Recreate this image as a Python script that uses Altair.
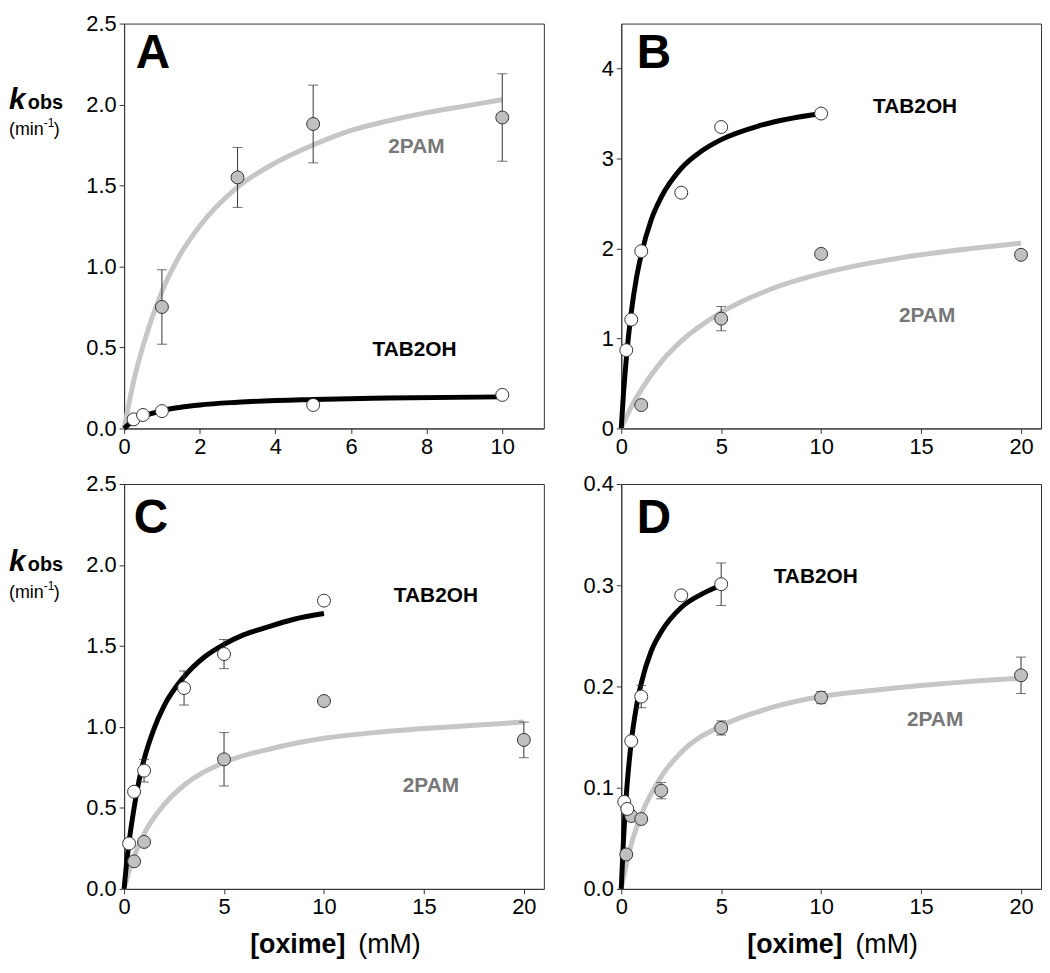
import altair as alt
import pandas as pd

# ---------------- data ----------------
# Panel A
A_X_2PAM = [1, 3, 5, 10]
A_Y_2PAM = [0.75, 1.55, 1.88, 1.92]
A_E_2PAM = [0.23, 0.185, 0.24, 0.27]
A_X_TAB = [0.25, 0.5, 1, 5, 10]
A_Y_TAB = [0.056, 0.083, 0.107, 0.145, 0.207]
A_E_TAB = [None, None, None, None, None]
A_FITX_2PAM = [0, 0.1, 0.25, 0.5, 1, 1.5, 2, 3, 4, 5, 6, 7, 8, 9, 10]
A_FITY_2PAM = [0, 0.12, 0.29, 0.51, 0.845, 1.08, 1.25, 1.49, 1.64, 1.75, 1.84, 1.90, 1.95, 1.99, 2.03]
A_FITX_TAB = [0, 0.1, 0.25, 0.5, 1, 2, 3, 5, 7, 10]
A_FITY_TAB = [0, 0.021, 0.045, 0.074, 0.11, 0.145, 0.162, 0.179, 0.188, 0.195]

# Panel B
B_X_2PAM = [1, 5, 10, 20]
B_Y_2PAM = [0.26, 1.22, 1.94, 1.93]
B_E_2PAM = [None, 0.135, None, None]
B_X_TAB = [0.25, 0.5, 1, 3, 5, 10]
B_Y_TAB = [0.87, 1.21, 1.97, 2.62, 3.35, 3.50]
B_E_TAB = [None, None, None, None, None, None]
B_FITX_2PAM = [0, 0.5, 1, 2, 3, 5, 7.5, 10, 12.5, 15, 17.5, 20]
B_FITY_2PAM = [0, 0.24, 0.43, 0.74, 0.97, 1.29, 1.55, 1.72, 1.84, 1.93, 2.00, 2.06]
B_FITX_TAB = [0, 0.1, 0.25, 0.5, 0.75, 1, 1.5, 2, 3, 4, 5, 7, 10]
B_FITY_TAB = [0, 0.35, 0.77, 1.29, 1.66, 1.93, 2.32, 2.57, 2.89, 3.08, 3.21, 3.37, 3.50]

# Panel C
C_X_2PAM = [0.5, 1, 5, 10, 20]
C_Y_2PAM = [0.17, 0.29, 0.80, 1.16, 0.92]
C_E_2PAM = [None, None, 0.165, None, 0.11]
C_X_TAB = [0.25, 0.5, 1, 3, 5, 10]
C_Y_TAB = [0.28, 0.60, 0.73, 1.24, 1.45, 1.78]
C_E_TAB = [None, None, 0.07, 0.105, 0.09, None]
C_FITX_2PAM = [0, 0.25, 0.5, 1, 2, 3, 5, 7.5, 10, 12.5, 15, 17.5, 20]
C_FITY_2PAM = [0, 0.11, 0.20, 0.34, 0.52, 0.64, 0.78, 0.87, 0.93, 0.965, 0.99, 1.01, 1.03]
C_FITX_TAB = [0, 0.1, 0.25, 0.5, 0.75, 1, 1.5, 2, 3, 4, 5, 6, 7, 8.5, 10]
C_FITY_TAB = [0, 0.13, 0.29, 0.50, 0.67, 0.80, 0.99, 1.13, 1.31, 1.43, 1.51, 1.57, 1.61, 1.665, 1.70]

# Panel D
D_X_2PAM = [0.25, 0.5, 1, 2, 5, 10, 20]
D_Y_2PAM = [0.034, 0.072, 0.069, 0.097, 0.159, 0.189, 0.211]
D_E_2PAM = [None, None, None, 0.008, 0.007, 0.006, 0.018]
D_X_TAB = [0.15, 0.3, 0.5, 1, 3, 5]
D_Y_TAB = [0.086, 0.079, 0.146, 0.190, 0.290, 0.301]
D_E_TAB = [None, None, None, 0.011, None, 0.021]
D_FITX_2PAM = [0, 0.25, 0.5, 1, 2, 3, 5, 7.5, 10, 12.5, 15, 17.5, 20]
D_FITY_2PAM = [0, 0.024, 0.044, 0.073, 0.111, 0.135, 0.161, 0.179, 0.190, 0.196, 0.201, 0.205, 0.208]
D_FITX_TAB = [0, 0.1, 0.25, 0.5, 0.75, 1, 1.5, 2, 3, 4, 5]
D_FITY_TAB = [0, 0.044, 0.092, 0.145, 0.179, 0.203, 0.235, 0.254, 0.278, 0.291, 0.300]

# axis tick values
A_XTICKS = [0, 2, 4, 6, 8, 10]
A_YTICKS = [0.0, 0.5, 1.0, 1.5, 2.0, 2.5]
B_XTICKS = [0, 5, 10, 15, 20]
B_YTICKS = [0, 1, 2, 3, 4]
C_XTICKS = [0, 5, 10, 15, 20]
C_YTICKS = [0.0, 0.5, 1.0, 1.5, 2.0, 2.5]
D_XTICKS = [0, 5, 10, 15, 20]
D_YTICKS = [0.0, 0.1, 0.2, 0.3, 0.4]

SERIES_2PAM = "2PAM"
SERIES_TAB = "TAB2OH"

# ---------------- styling / layout ----------------
FONT = "Liberation Sans"
EDGE = "#333333"
GRAY_FILL = "#c0c0c0"
GRAY_LINE = "#c6c6c6"
LABEL_GRAY = "#777777"
W = 423
H = 408

# label anchor positions (data coordinates) for the series names
LABEL_POS = {
    "A": {SERIES_2PAM: (7.73, 1.74), SERIES_TAB: (7.68, 0.483)},
    "B": {SERIES_2PAM: (15.3, 1.25), SERIES_TAB: (14.7, 3.57)},
    "C": {SERIES_2PAM: (15.35, 0.634), SERIES_TAB: (15.6, 1.806)},
    "D": {SERIES_2PAM: (15.7, 0.167), SERIES_TAB: (9.73, 0.308)},
}
LETTER_POS = {"A": (29, 45), "B": (33, 45), "C": (27, 49), "D": (33, 49)}
YTITLE_BASE = {"A": (86, 112), "C": (88, 115)}


def panel(letter, xdom, ydom, xticks, yticks, yfmt,
          fx2, fy2, fxt, fyt, x2, y2, e2, xt, yt, et,
          ytitle=False, xtitle=False):
    xscale = alt.Scale(domain=xdom, nice=False, zero=False)
    yscale = alt.Scale(domain=ydom, nice=False, zero=False)
    X = alt.X("x:Q", scale=xscale,
              axis=alt.Axis(values=xticks, format="d", title=None, labelFlush=False))
    Y = alt.Y("y:Q", scale=yscale,
              axis=alt.Axis(values=yticks, format=yfmt, title=None))

    fit2 = pd.DataFrame({"x": fx2, "y": fy2})
    fitt = pd.DataFrame({"x": fxt, "y": fyt})
    p2 = pd.DataFrame({"x": x2, "y": y2, "e": e2})
    pt = pd.DataFrame({"x": xt, "y": yt, "e": et})
    rows = []
    for df in (p2, pt):
        for _, r in df.iterrows():
            if pd.notna(r["e"]):
                rows.append({"x": r["x"], "lo": r["y"] - r["e"], "hi": r["y"] + r["e"]})
    errs = pd.DataFrame(rows)

    layers = [
        alt.Chart(fit2).mark_line(color=GRAY_LINE, strokeWidth=5, interpolate="monotone").encode(x=X, y=Y),
        alt.Chart(fitt).mark_line(color="black", strokeWidth=5, interpolate="monotone").encode(x=X, y=Y),
    ]
    if len(errs):
        layers += [
            alt.Chart(errs).mark_rule(color=EDGE, strokeWidth=1).encode(
                x=X, y=alt.Y("lo:Q", scale=yscale), y2="hi:Q"),
            alt.Chart(errs).mark_tick(color=EDGE, orient="horizontal", size=10, thickness=1).encode(
                x=X, y=alt.Y("lo:Q", scale=yscale)),
            alt.Chart(errs).mark_tick(color=EDGE, orient="horizontal", size=10, thickness=1).encode(
                x=X, y=alt.Y("hi:Q", scale=yscale)),
        ]
    layers += [
        alt.Chart(p2).mark_circle(size=170, fill=GRAY_FILL, stroke=EDGE, strokeWidth=1, opacity=1).encode(x=X, y=Y),
        alt.Chart(pt).mark_circle(size=170, fill="white", stroke=EDGE, strokeWidth=1, opacity=1).encode(x=X, y=Y),
    ]

    lab = pd.DataFrame([
        {"x": LABEL_POS[letter][s][0], "y": LABEL_POS[letter][s][1], "t": s} for s in (SERIES_2PAM, SERIES_TAB)
    ])
    layers.append(
        alt.Chart(lab).mark_text(font=FONT, fontSize=21, fontWeight="bold", align="center", baseline="middle").encode(
            x=X, y=Y, text="t:N",
            color=alt.Color("t:N", scale=alt.Scale(domain=[SERIES_2PAM, SERIES_TAB], range=[LABEL_GRAY, "black"]), legend=None))
    )

    lx, ly = LETTER_POS[letter]
    layers.append(
        alt.Chart(pd.DataFrame({"t": [letter]})).mark_text(
            font=FONT, fontSize=48, fontWeight="bold", align="center", baseline="alphabetic", color="black"
        ).encode(x=alt.value(lx), y=alt.value(ly), text="t:N")
    )

    if ytitle:
        kb, mb = YTITLE_BASE[letter]
        parts = [
            ("k", -116, kb, 30, "bold", "italic"),
            ("obs", -97, kb, 20, "bold", "normal"),
            ("(min", -116, mb, 18, "normal", "normal"),
            ("-1", -81, mb - 8, 12, "normal", "normal"),
            (")", -71, mb, 18, "normal", "normal"),
        ]
        for t, px, py, fs, fw, fst in parts:
            layers.append(
                alt.Chart(pd.DataFrame({"t": [t]})).mark_text(
                    font=FONT, fontSize=fs, fontWeight=fw, fontStyle=fst, align="left",
                    baseline="alphabetic", color="black"
                ).encode(x=alt.value(px), y=alt.value(py), text="t:N")
            )
    if xtitle:
        layers.append(
            alt.Chart(pd.DataFrame({"t": ["[oxime]"]})).mark_text(
                font=FONT, fontSize=27, fontWeight="bold", align="right", baseline="alphabetic", color="black"
            ).encode(x=alt.value(223), y=alt.value(H + 65), text="t:N")
        )
        layers.append(
            alt.Chart(pd.DataFrame({"t": ["(mM)"]})).mark_text(
                font=FONT, fontSize=27, fontWeight="normal", align="left", baseline="alphabetic", color="black"
            ).encode(x=alt.value(236), y=alt.value(H + 65), text="t:N")
        )

    return alt.layer(*layers).properties(width=W, height=H)


pA = panel("A", [0, 11.1], [0, 2.5], A_XTICKS, A_YTICKS, ".1f",
           A_FITX_2PAM, A_FITY_2PAM, A_FITX_TAB, A_FITY_TAB,
           A_X_2PAM, A_Y_2PAM, A_E_2PAM, A_X_TAB, A_Y_TAB, A_E_TAB, ytitle=True)
pB = panel("B", [0, 21], [0, 4.5], B_XTICKS, B_YTICKS, "d",
           B_FITX_2PAM, B_FITY_2PAM, B_FITX_TAB, B_FITY_TAB,
           B_X_2PAM, B_Y_2PAM, B_E_2PAM, B_X_TAB, B_Y_TAB, B_E_TAB)
pC = panel("C", [0, 21], [0, 2.5], C_XTICKS, C_YTICKS, ".1f",
           C_FITX_2PAM, C_FITY_2PAM, C_FITX_TAB, C_FITY_TAB,
           C_X_2PAM, C_Y_2PAM, C_E_2PAM, C_X_TAB, C_Y_TAB, C_E_TAB, ytitle=True, xtitle=True)
pD = panel("D", [0, 21], [0, 0.4], D_XTICKS, D_YTICKS, ".1f",
           D_FITX_2PAM, D_FITY_2PAM, D_FITX_TAB, D_FITY_TAB,
           D_X_2PAM, D_Y_2PAM, D_E_2PAM, D_X_TAB, D_Y_TAB, D_E_TAB, xtitle=True)

chart = alt.concat(
    pA, pB, pC, pD, columns=2, spacing={"row": 56, "column": 78}, bounds="flush"
).properties(
    padding=0, background="white"
).configure_view(
    stroke=EDGE, strokeWidth=1
).configure_axis(
    domainColor=EDGE, tickColor=EDGE, tickSize=5, tickWidth=1, domainWidth=1,
    labelFont=FONT, labelFontSize=22, labelColor="black", labelPadding=3, grid=False
)

chart.save("out.html", embed_options={"renderer": "svg", "actions": False})
